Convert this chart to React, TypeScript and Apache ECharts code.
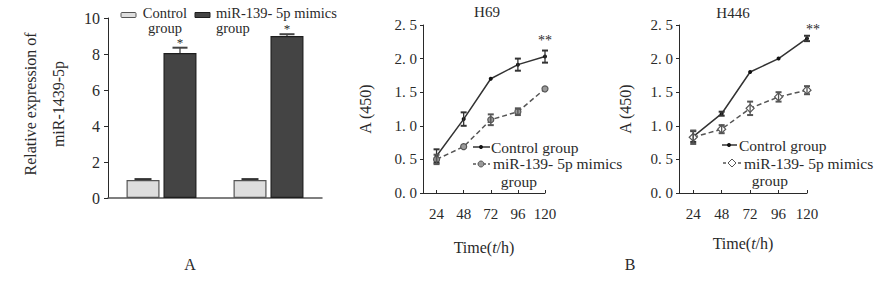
import React, { useEffect, useRef } from "react";
import * as echarts from "echarts";

// ---- Data ----
const barCategories = ["Group 1", "Group 2"];
const barControl = [1.0, 1.0];
const barControlErr = [0.05, 0.05];
const barMimics = [8.05, 9.0];
const barMimicsErr = [0.3, 0.1];
const barSig = ["", ""];
const barMimicsSig = ["*", "*"];
const barMimicsSigY = [8.62, 9.4];

const timePoints = [24, 48, 72, 96, 120];
const h69Control = [0.55, 1.1, 1.7, 1.91, 2.03];
const h69ControlErr = [0.1, 0.1, 0, 0.09, 0.09];
const h69Mimics = [0.5, 0.69, 1.09, 1.21, 1.55];
const h69MimicsErr = [0.07, 0, 0.08, 0.05, 0];
const h69Sig = ["", "", "", "", "**"];
const h69SigY = [0, 0, 0, 0, 2.27];

const h446Control = [0.84, 1.18, 1.8, 2.0, 2.3];
const h446ControlErr = [0.08, 0.03, 0, 0, 0.04];
const h446Mimics = [0.83, 0.95, 1.26, 1.43, 1.53];
const h446MimicsErr = [0.1, 0.06, 0.1, 0.07, 0.06];
const h446Sig = ["", "", "", "", "**"];
const h446SigY = [0, 0, 0, 0, 2.44];

const FONT = "Liberation Serif";
const INK = "#2a2a2a";

function errRender(offsetX: number, capW: number, upOnly: boolean, color: string, sig: string[], sigY: number[], sigDx: number, sigSize: number) {
  return (params: any, api: any) => {
    const i = params.dataIndex;
    const x = api.value(0);
    const v = api.value(1);
    const e = api.value(2);
    const children: any[] = [];
    if (e > 0) {
      const pTop = api.coord([x, v + e]);
      const pBot = api.coord([x, upOnly ? v : v - e]);
      const cx = pTop[0] + offsetX;
      children.push({ type: "line", shape: { x1: cx, y1: pTop[1], x2: cx, y2: pBot[1] }, style: { stroke: color, lineWidth: 1.3 } });
      children.push({ type: "line", shape: { x1: cx - capW / 2, y1: pTop[1], x2: cx + capW / 2, y2: pTop[1] }, style: { stroke: color, lineWidth: 2 } });
      if (!upOnly) {
        children.push({ type: "line", shape: { x1: cx - capW / 2, y1: pBot[1], x2: cx + capW / 2, y2: pBot[1] }, style: { stroke: color, lineWidth: 2 } });
      }
    }
    if (sig[i]) {
      const ps = api.coord([x, sigY[i]]);
      children.push({
        type: "text",
        x: ps[0] + offsetX + sigDx,
        y: ps[1],
        style: { text: sig[i], fill: INK, font: `${sigSize}px "${FONT}"`, align: "center", verticalAlign: "middle", lineHeight: 8 },
      });
    }
    return { type: "group", children };
  };
}

export default function App() {
  const ref = useRef<HTMLDivElement>(null);

  useEffect(() => {
    if (!ref.current) return;
    const chart = echarts.init(ref.current, null, { renderer: "svg" });

    const axisLine = { show: true, lineStyle: { color: INK, width: 1 } };
    const labelA = { color: INK, fontFamily: FONT, fontSize: 16 };
    const labelB = { color: INK, fontFamily: FONT, fontSize: 15 };
    const fmtB = (v: number) => v.toFixed(1).replace(".", ". ");

    const valueX = (gridIndex: number) => ({
      type: "value",
      gridIndex,
      min: 12,
      max: 120,
      axisLine,
      splitLine: { show: false },
      axisTick: { show: true, inside: true, length: 3, lineStyle: { color: INK }, customValues: timePoints },
      axisLabel: { ...labelB, margin: 13, customValues: timePoints },
      name: "Time({it|t}/h)",
      nameLocation: "middle",
      nameGap: gridIndex === 1 ? 46 : 42,
      nameTextStyle: {
        color: INK,
        fontFamily: FONT,
        fontSize: 16,
        rich: { it: { fontStyle: "italic", fontFamily: FONT, fontSize: 16, color: INK } },
      },
    });

    const valueYB = (gridIndex: number) => ({
      type: "value",
      gridIndex,
      min: 0,
      max: 2.5,
      interval: 0.5,
      axisLine,
      splitLine: { show: false },
      axisTick: { show: true, inside: false, length: 3, lineStyle: { color: INK } },
      axisLabel: { ...labelB, margin: 6, formatter: fmtB },
      name: "A (450)",
      nameLocation: "middle",
      nameRotate: 90,
      nameGap: gridIndex === 1 ? 50 : 46,
      nameTextStyle: { color: INK, fontFamily: FONT, fontSize: 16 },
    });

    const lineSeries = (name: string, data: number[], gi: number, dashed: boolean, symbol: string, symbolSize: number, fill: string, border: string) => ({
      type: "line",
      name,
      xAxisIndex: gi,
      yAxisIndex: gi,
      data: timePoints.map((t, k) => [t, data[k]]),
      symbol,
      symbolSize,
      showSymbol: true,
      lineStyle: { color: dashed ? "#555" : "#333", width: 1.5, type: dashed ? [5, 3] : "solid" },
      itemStyle: { color: fill, borderColor: border, borderWidth: dashed ? 1.2 : 0 },
      z: 3,
    });

    const errSeries = (name: string, vals: number[], errs: number[], gi: number, color: string, sig: string[], sigY: number[], sigDx: number) => ({
      type: "custom",
      name,
      xAxisIndex: gi,
      yAxisIndex: gi,
      data: timePoints.map((t, k) => [t, vals[k], errs[k]]),
      renderItem: errRender(0, 6, false, color, sig, sigY, sigDx, 14),
      z: 4,
    });

    const barHalf = (33 + 4) / 2;
    const legendFont = `15.5px "${FONT}"`;
    const legendFontA = `14.5px "${FONT}"`;

    const option: any = {
      animation: false,
      backgroundColor: "#ffffff",
      textStyle: { fontFamily: FONT },
      grid: [
        { left: 108, top: 18, width: 214, height: 180 },
        { left: 423, top: 25, width: 122, height: 168 },
        { left: 679, top: 25, width: 128, height: 168 },
      ],
      xAxis: [
        {
          type: "category",
          gridIndex: 0,
          data: barCategories,
          axisLine: { show: true, lineStyle: { color: "#555", width: 1.5 } },
          axisTick: { show: false },
          axisLabel: { show: false },
        },
        valueX(1),
        valueX(2),
      ],
      yAxis: [
        {
          type: "value",
          gridIndex: 0,
          min: 0,
          max: 10,
          interval: 2,
          axisLine,
          splitLine: { show: false },
          axisTick: { show: true, inside: false, length: 4, lineStyle: { color: INK } },
          axisLabel: { ...labelA, margin: 8 },
        },
        valueYB(1),
        valueYB(2),
      ],
      series: [
        {
          type: "bar",
          name: "Control group",
          xAxisIndex: 0,
          yAxisIndex: 0,
          data: barControl,
          barWidth: 33,
          barGap: "12%",
          itemStyle: { color: "#dedede", borderColor: "#555", borderWidth: 1.2 },
        },
        {
          type: "bar",
          name: "miR-139-5p mimics group",
          xAxisIndex: 0,
          yAxisIndex: 0,
          data: barMimics,
          barWidth: 33,
          barGap: "12%",
          itemStyle: { color: "#444444", borderColor: "#1e1e1e", borderWidth: 1.2 },
        },
        {
          type: "custom",
          name: "Control error",
          xAxisIndex: 0,
          yAxisIndex: 0,
          data: barCategories.map((_, k) => [k, barControl[k], barControlErr[k]]),
          renderItem: errRender(-barHalf, 17, true, "#333", barSig, [0, 0], 0, 13),
          z: 4,
        },
        {
          type: "custom",
          name: "Mimics error",
          xAxisIndex: 0,
          yAxisIndex: 0,
          data: barCategories.map((_, k) => [k, barMimics[k], barMimicsErr[k]]),
          renderItem: errRender(barHalf, 15, true, "#444", barMimicsSig, barMimicsSigY, 0, 13),
          z: 4,
        },
        lineSeries("H69 control", h69Control, 1, false, "circle", 4, "#111", "#111"),
        lineSeries("H69 mimics", h69Mimics, 1, true, "circle", 6, "#9a9a9a", "#555"),
        errSeries("H69 control error", h69Control, h69ControlErr, 1, "#333", h69Sig, h69SigY, 0),
        errSeries("H69 mimics error", h69Mimics, h69MimicsErr, 1, "#555", ["", "", "", "", ""], [0, 0, 0, 0, 0], 0),
        lineSeries("H446 control", h446Control, 2, false, "circle", 4, "#111", "#111"),
        lineSeries("H446 mimics", h446Mimics, 2, true, "diamond", 8, "#ffffff", "#555"),
        errSeries("H446 control error", h446Control, h446ControlErr, 2, "#333", h446Sig, h446SigY, 6),
        errSeries("H446 mimics error", h446Mimics, h446MimicsErr, 2, "#555", ["", "", "", "", ""], [0, 0, 0, 0, 0], 0),
      ],
      graphic: [
        // Panel A y-axis title
        {
          type: "text",
          x: 44,
          y: 104,
          rotation: Math.PI / 2,
          style: {
            text: "Relative expression of\nmiR-1439-5p",
            fill: INK,
            font: `16px "${FONT}"`,
            align: "center",
            verticalAlign: "middle",
            lineHeight: 28,
          },
        },
        // Panel A legend
        { type: "rect", shape: { x: 121, y: 12.5, width: 15, height: 5, r: 1 }, style: { fill: "#dedede", stroke: "#555", lineWidth: 1 } },
        { type: "text", x: 165, y: 20.5, style: { text: "Control\ngroup", fill: INK, font: legendFontA, align: "center", verticalAlign: "middle", lineHeight: 14.5 } },
        { type: "rect", shape: { x: 195, y: 12.5, width: 15, height: 5 }, style: { fill: "#444", stroke: "#1e1e1e", lineWidth: 1 } },
        { type: "text", x: 216, y: 20.5, style: { text: "miR-139- 5p mimics\ngroup", fill: INK, font: legendFontA, verticalAlign: "middle", lineHeight: 14.5 } },
        { type: "text", x: 190, y: 264, style: { text: "A", fill: INK, font: `16px "${FONT}"`, align: "center", verticalAlign: "middle" } },
        // H69 title and legend
        { type: "text", x: 487, y: 12, style: { text: "H69", fill: INK, font: `15px "${FONT}"`, align: "center", verticalAlign: "middle" } },
        { type: "line", shape: { x1: 473, y1: 147, x2: 490, y2: 147 }, style: { stroke: "#333", lineWidth: 1.5 } },
        { type: "circle", shape: { cx: 481, cy: 147, r: 2 }, style: { fill: "#111" } },
        { type: "text", x: 491, y: 147, style: { text: "Control group", fill: INK, font: legendFont, verticalAlign: "middle" } },
        { type: "line", shape: { x1: 473, y1: 164, x2: 490, y2: 164 }, style: { stroke: "#555", lineWidth: 1.5, lineDash: [3, 2] } },
        { type: "circle", shape: { cx: 481, cy: 164, r: 3 }, style: { fill: "#9a9a9a", stroke: "#555", lineWidth: 1 } },
        { type: "text", x: 493, y: 172, style: { text: "miR-139- 5p mimics\n  group", fill: INK, font: legendFont, verticalAlign: "middle", lineHeight: 18 } },
        // H446 title and legend
        { type: "text", x: 733, y: 13, style: { text: "H446", fill: INK, font: `15px "${FONT}"`, align: "center", verticalAlign: "middle" } },
        { type: "line", shape: { x1: 722, y1: 145, x2: 737, y2: 145 }, style: { stroke: "#333", lineWidth: 1.5 } },
        { type: "circle", shape: { cx: 729, cy: 145, r: 2 }, style: { fill: "#111" } },
        { type: "text", x: 739, y: 145, style: { text: "Control group", fill: INK, font: legendFont, verticalAlign: "middle" } },
        { type: "line", shape: { x1: 723, y1: 163, x2: 742, y2: 163 }, style: { stroke: "#555", lineWidth: 1.5, lineDash: [3, 2] } },
        { type: "polygon", shape: { points: [[732, 159], [736, 163], [732, 167], [728, 163]] }, style: { fill: "#fff", stroke: "#555", lineWidth: 1 } },
        { type: "text", x: 744, y: 171.5, style: { text: "miR-139- 5p mimics\n  group", fill: INK, font: legendFont, verticalAlign: "middle", lineHeight: 17 } },
        { type: "text", x: 630, y: 264, style: { text: "B", fill: INK, font: `16px "${FONT}"`, align: "center", verticalAlign: "middle" } },
      ],
    };

    chart.setOption(option);
    return () => chart.dispose();
  }, []);

  return (
    <div
      ref={ref}
      style={{ position: "fixed", left: 0, top: 0, width: 880, height: 282, background: "#fff" }}
    />
  );
}
